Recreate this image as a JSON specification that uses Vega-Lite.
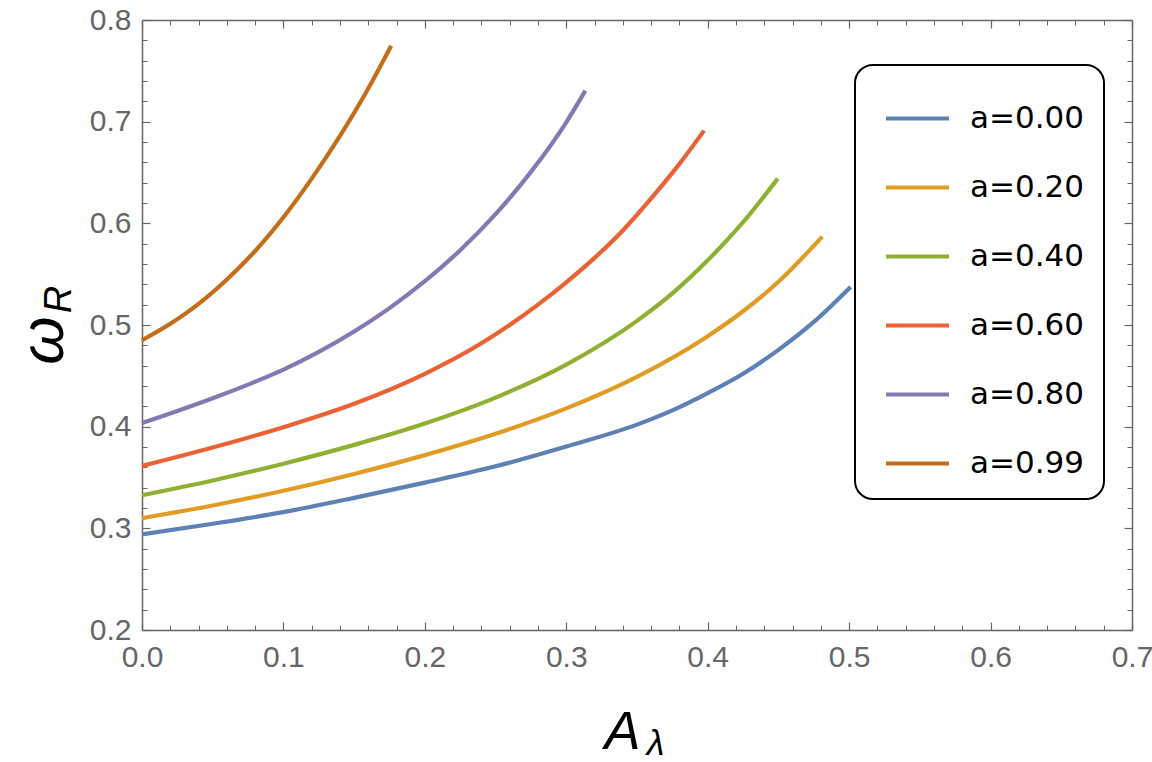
{
  "$schema": "https://vega.github.io/schema/vega-lite/v6.json",
  "autosize": "none",
  "width": 990,
  "height": 610,
  "padding": {"left": 142, "top": 20, "right": 20, "bottom": 132},
  "background": "white",
  "config": {"view": {"stroke": null}, "axis": {"grid": false}},
  "data": {
    "values": [
      {"a": "a=0.00", "A": 0, "w": 0.294},
      {"a": "a=0.00", "A": 0.05, "w": 0.3045},
      {"a": "a=0.00", "A": 0.1, "w": 0.316},
      {"a": "a=0.00", "A": 0.15, "w": 0.33},
      {"a": "a=0.00", "A": 0.2, "w": 0.345},
      {"a": "a=0.00", "A": 0.25, "w": 0.361},
      {"a": "a=0.00", "A": 0.3, "w": 0.3805},
      {"a": "a=0.00", "A": 0.35, "w": 0.402},
      {"a": "a=0.00", "A": 0.375, "w": 0.416},
      {"a": "a=0.00", "A": 0.4, "w": 0.433},
      {"a": "a=0.00", "A": 0.425, "w": 0.452},
      {"a": "a=0.00", "A": 0.45, "w": 0.4755},
      {"a": "a=0.00", "A": 0.475, "w": 0.503},
      {"a": "a=0.00", "A": 0.501, "w": 0.5375},
      {"a": "a=0.20", "A": 0, "w": 0.31},
      {"a": "a=0.20", "A": 0.05, "w": 0.3225},
      {"a": "a=0.20", "A": 0.1, "w": 0.337},
      {"a": "a=0.20", "A": 0.15, "w": 0.3535},
      {"a": "a=0.20", "A": 0.2, "w": 0.372},
      {"a": "a=0.20", "A": 0.25, "w": 0.393},
      {"a": "a=0.20", "A": 0.3, "w": 0.418},
      {"a": "a=0.20", "A": 0.35, "w": 0.449},
      {"a": "a=0.20", "A": 0.4, "w": 0.489},
      {"a": "a=0.20", "A": 0.425, "w": 0.5135},
      {"a": "a=0.20", "A": 0.45, "w": 0.5425},
      {"a": "a=0.20", "A": 0.481, "w": 0.587},
      {"a": "a=0.40", "A": 0, "w": 0.3326},
      {"a": "a=0.40", "A": 0.05, "w": 0.3471},
      {"a": "a=0.40", "A": 0.1, "w": 0.3636},
      {"a": "a=0.40", "A": 0.15, "w": 0.3821},
      {"a": "a=0.40", "A": 0.2, "w": 0.4031},
      {"a": "a=0.40", "A": 0.25, "w": 0.4286},
      {"a": "a=0.40", "A": 0.3, "w": 0.4611},
      {"a": "a=0.40", "A": 0.35, "w": 0.5041},
      {"a": "a=0.40", "A": 0.375, "w": 0.5311},
      {"a": "a=0.40", "A": 0.4, "w": 0.5636},
      {"a": "a=0.40", "A": 0.425, "w": 0.6011},
      {"a": "a=0.40", "A": 0.4495, "w": 0.644},
      {"a": "a=0.60", "A": 0, "w": 0.3614},
      {"a": "a=0.60", "A": 0.05, "w": 0.3795},
      {"a": "a=0.60", "A": 0.1, "w": 0.3995},
      {"a": "a=0.60", "A": 0.15, "w": 0.4225},
      {"a": "a=0.60", "A": 0.2, "w": 0.452},
      {"a": "a=0.60", "A": 0.24, "w": 0.482},
      {"a": "a=0.60", "A": 0.26, "w": 0.5},
      {"a": "a=0.60", "A": 0.28, "w": 0.52},
      {"a": "a=0.60", "A": 0.3, "w": 0.542},
      {"a": "a=0.60", "A": 0.32, "w": 0.566},
      {"a": "a=0.60", "A": 0.34, "w": 0.593},
      {"a": "a=0.60", "A": 0.36, "w": 0.6245},
      {"a": "a=0.60", "A": 0.38, "w": 0.6585},
      {"a": "a=0.60", "A": 0.3974, "w": 0.6912},
      {"a": "a=0.80", "A": 0, "w": 0.4036},
      {"a": "a=0.80", "A": 0.025, "w": 0.4154},
      {"a": "a=0.80", "A": 0.05, "w": 0.4279},
      {"a": "a=0.80", "A": 0.075, "w": 0.4414},
      {"a": "a=0.80", "A": 0.1, "w": 0.4561},
      {"a": "a=0.80", "A": 0.125, "w": 0.4736},
      {"a": "a=0.80", "A": 0.15, "w": 0.4936},
      {"a": "a=0.80", "A": 0.175, "w": 0.5166},
      {"a": "a=0.80", "A": 0.2, "w": 0.5431},
      {"a": "a=0.80", "A": 0.225, "w": 0.5736},
      {"a": "a=0.80", "A": 0.25, "w": 0.6091},
      {"a": "a=0.80", "A": 0.275, "w": 0.6506},
      {"a": "a=0.80", "A": 0.3, "w": 0.6994},
      {"a": "a=0.80", "A": 0.3135, "w": 0.7305},
      {"a": "a=0.99", "A": 0, "w": 0.485},
      {"a": "a=0.99", "A": 0.02, "w": 0.5012},
      {"a": "a=0.99", "A": 0.04, "w": 0.5208},
      {"a": "a=0.99", "A": 0.06, "w": 0.5448},
      {"a": "a=0.99", "A": 0.08, "w": 0.5728},
      {"a": "a=0.99", "A": 0.1, "w": 0.606},
      {"a": "a=0.99", "A": 0.12, "w": 0.644},
      {"a": "a=0.99", "A": 0.14, "w": 0.686},
      {"a": "a=0.99", "A": 0.16, "w": 0.7326},
      {"a": "a=0.99", "A": 0.1762, "w": 0.7746}
    ]
  },
  "resolve": {"axis": {"x": "independent", "y": "independent"}},
  "layer": [
    {
      "mark": {"type": "line", "strokeWidth": 4.2, "interpolate": "monotone"},
      "encoding": {
        "x": {
          "field": "A", "type": "quantitative",
          "scale": {"domain": [0, 0.7], "nice": false, "zero": false},
          "axis": {
            "orient": "bottom", "values": [0, 0.1, 0.2, 0.3, 0.4, 0.5, 0.6, 0.7], "format": ".1f",
            "ticks": false, "domain": true, "domainColor": "#666666", "domainWidth": 1.5,
            "labelFont": "Liberation Sans", "labelFontSize": 30, "labelColor": "#666666",
            "labelPadding": 12, "labelFlush": false, "labelOverlap": false,
            "title": "A", "titleFont": "Liberation Sans", "titleFontStyle": "italic", "titleFontWeight": "normal",
            "titleFontSize": 54, "titleColor": "black", "titleX": 480, "titleY": 118,
            "titleAlign": "center", "titleBaseline": "alphabetic"
          }
        },
        "y": {
          "field": "w", "type": "quantitative",
          "scale": {"domain": [0.2, 0.8], "nice": false, "zero": false},
          "axis": {
            "orient": "left", "values": [0.2, 0.3, 0.4, 0.5, 0.6, 0.7, 0.8], "format": ".1f",
            "ticks": false, "domain": true, "domainColor": "#666666", "domainWidth": 1.5,
            "labelFont": "Liberation Sans", "labelFontSize": 30, "labelColor": "#666666",
            "labelPadding": 11, "labelFlush": false, "labelOverlap": false,
            "title": "ω", "titleFont": "Liberation Sans", "titleFontStyle": "italic", "titleFontWeight": "normal",
            "titleFontSize": 62, "titleColor": "black", "titleX": -80, "titleY": 320, "titleAngle": 270,
            "titleAlign": "center", "titleBaseline": "alphabetic"
          }
        },
        "color": {
          "field": "a", "type": "nominal",
          "scale": {"range": ["#5E81B5", "#E19C24", "#8FB032", "#EB6235", "#8778B3", "#C56E1A"]},
          "legend": {
            "orient": "none", "legendX": 713, "legendY": 45, "title": null,
            "symbolType": "stroke", "symbolSize": 3969, "symbolStrokeWidth": 4,
            "symbolOffset": 9,
            "labelFont": "DejaVu Sans", "labelFontSize": 31, "labelColor": "black",
            "labelOffset": 19, "labelLimit": 400,
            "rowPadding": 20, "padding": 20,
            "fillColor": "white", "strokeColor": "black", "cornerRadius": 18,
            "encode": {"legend": {"update": {"strokeWidth": {"value": 2}}}}
          }
        }
      }
    },
    {
      "mark": {"type": "line", "opacity": 0},
      "encoding": {
        "x": {"field": "A", "type": "quantitative", "scale": {"domain": [0, 0.7], "nice": false, "zero": false},
          "axis": {"orient": "bottom", "values": [0, 0.1, 0.2, 0.3, 0.4, 0.5, 0.6, 0.7], "labels": false, "domain": false,
            "ticks": true, "tickSize": -8, "tickColor": "#666666", "tickWidth": 1.2, "title": null}},
        "y": {"field": "w", "type": "quantitative", "scale": {"domain": [0.2, 0.8], "nice": false, "zero": false},
          "axis": {"orient": "left", "values": [0.2, 0.3, 0.4, 0.5, 0.6, 0.7, 0.8], "labels": false, "domain": false,
            "ticks": true, "tickSize": -8, "tickColor": "#666666", "tickWidth": 1.2, "title": null}},
        "detail": {"field": "a"}
      }
    },
    {
      "mark": {"type": "line", "opacity": 0},
      "encoding": {
        "x": {"field": "A", "type": "quantitative", "scale": {"domain": [0, 0.7], "nice": false, "zero": false},
          "axis": {"orient": "bottom", "values": [0.02, 0.04, 0.06, 0.08, 0.12, 0.14, 0.16, 0.18, 0.22, 0.24, 0.26, 0.28, 0.32, 0.34, 0.36, 0.38, 0.42, 0.44, 0.46, 0.48, 0.52, 0.54, 0.56, 0.58, 0.62, 0.64, 0.66, 0.68],
            "labels": false, "domain": false, "ticks": true, "tickSize": -5, "tickColor": "#666666", "tickWidth": 1, "title": null}},
        "y": {"field": "w", "type": "quantitative", "scale": {"domain": [0.2, 0.8], "nice": false, "zero": false},
          "axis": {"orient": "left", "values": [0.22, 0.24, 0.26, 0.28, 0.32, 0.34, 0.36, 0.38, 0.42, 0.44, 0.46, 0.48, 0.52, 0.54, 0.56, 0.58, 0.62, 0.64, 0.66, 0.68, 0.72, 0.74, 0.76, 0.78],
            "labels": false, "domain": false, "ticks": true, "tickSize": -5, "tickColor": "#666666", "tickWidth": 1, "title": null}},
        "detail": {"field": "a"}
      }
    },
    {
      "mark": {"type": "line", "opacity": 0},
      "encoding": {
        "x": {"field": "A", "type": "quantitative", "scale": {"domain": [0, 0.7], "nice": false, "zero": false},
          "axis": {"orient": "top", "values": [0, 0.1, 0.2, 0.3, 0.4, 0.5, 0.6, 0.7], "labels": false,
            "domain": true, "domainColor": "#666666", "domainWidth": 1.5,
            "ticks": true, "tickSize": -8, "tickColor": "#666666", "tickWidth": 1.2, "title": null}},
        "y": {"field": "w", "type": "quantitative", "scale": {"domain": [0.2, 0.8], "nice": false, "zero": false},
          "axis": {"orient": "right", "values": [0.2, 0.3, 0.4, 0.5, 0.6, 0.7, 0.8], "labels": false,
            "domain": true, "domainColor": "#666666", "domainWidth": 1.5,
            "ticks": true, "tickSize": -8, "tickColor": "#666666", "tickWidth": 1.2, "title": null}},
        "detail": {"field": "a"}
      }
    },
    {
      "mark": {"type": "line", "opacity": 0},
      "encoding": {
        "x": {"field": "A", "type": "quantitative", "scale": {"domain": [0, 0.7], "nice": false, "zero": false},
          "axis": {"orient": "top", "values": [0.02, 0.04, 0.06, 0.08, 0.12, 0.14, 0.16, 0.18, 0.22, 0.24, 0.26, 0.28, 0.32, 0.34, 0.36, 0.38, 0.42, 0.44, 0.46, 0.48, 0.52, 0.54, 0.56, 0.58, 0.62, 0.64, 0.66, 0.68],
            "labels": false, "domain": false, "ticks": true, "tickSize": -5, "tickColor": "#666666", "tickWidth": 1, "title": null}},
        "y": {"field": "w", "type": "quantitative", "scale": {"domain": [0.2, 0.8], "nice": false, "zero": false},
          "axis": {"orient": "right", "values": [0.22, 0.24, 0.26, 0.28, 0.32, 0.34, 0.36, 0.38, 0.42, 0.44, 0.46, 0.48, 0.52, 0.54, 0.56, 0.58, 0.62, 0.64, 0.66, 0.68, 0.72, 0.74, 0.76, 0.78],
            "labels": false, "domain": false, "ticks": true, "tickSize": -5, "tickColor": "#666666", "tickWidth": 1, "title": null}},
        "detail": {"field": "a"}
      }
    },
    {
      "mark": {"type": "line", "opacity": 0},
      "encoding": {
        "x": {"field": "A", "type": "quantitative", "scale": {"domain": [0, 0.7], "nice": false, "zero": false},
          "axis": {"orient": "bottom", "labels": false, "domain": false, "ticks": false,
            "title": "λ", "titleFont": "Liberation Sans", "titleFontStyle": "italic", "titleFontWeight": "normal",
            "titleFontSize": 36, "titleColor": "black", "titleX": 513, "titleY": 124,
            "titleAlign": "center", "titleBaseline": "alphabetic"}},
        "y": {"field": "w", "type": "quantitative", "scale": {"domain": [0.2, 0.8], "nice": false, "zero": false},
          "axis": {"orient": "left", "labels": false, "domain": false, "ticks": false,
            "title": "R", "titleFont": "Liberation Sans", "titleFontStyle": "italic", "titleFontWeight": "normal",
            "titleFontSize": 38, "titleColor": "black", "titleX": -72, "titleY": 279, "titleAngle": 270,
            "titleAlign": "center", "titleBaseline": "alphabetic"}},
        "detail": {"field": "a"}
      }
    }
  ]
}
